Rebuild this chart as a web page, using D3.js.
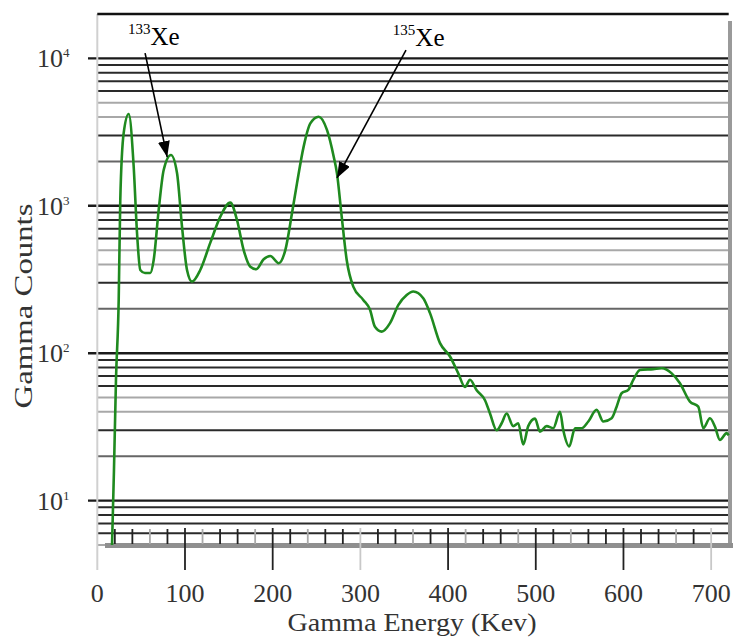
<!DOCTYPE html>
<html lang="en">
<head>
<meta charset="UTF-8">
<title>Gamma Spectrum</title>
<script src="https://d3js.org/d3.v7.min.js"></script>
<style>
  body { margin: 0; background: #fff; }
  text { font-family: "Liberation Serif", "Times New Roman", serif; fill: #111; }
</style>
</head>
<body>
<script>
var width = 733, height = 638;

// spectrum (keV, counts)
var energy = [16.8, 19.0, 21.3, 24.4, 26.2, 30.1, 35.8, 41.5, 45.3, 49.0, 54.4, 60.4, 64.3, 70.0, 75.7,
  84.0, 90.9, 96.6, 102.3, 108.0, 117.4, 128.8, 140.3, 151.7, 159.3, 166.9, 174.5, 181.3, 189.7, 197.3,
  206.8, 214.4, 222.0, 227.7, 235.3, 242.9, 252.5, 261.9, 269.6, 273.3, 278.7, 284.4, 291.9, 303.3, 311.0,
  316.6, 324.3, 333.8, 343.2, 352.8, 360.3, 371.7, 379.4, 390.8, 402.2, 411.6, 419.3, 425.0, 432.6, 442.1,
  447.8, 455.4, 461.1, 466.8, 474.3, 480.0, 485.7, 491.4, 499.1, 504.8, 512.4, 519.9, 527.6, 531.4, 538.2,
  544.7, 552.3, 559.9, 569.4, 577.0, 586.5, 592.2, 597.9, 605.5, 611.2, 618.8, 634.0, 643.6, 655.0, 664.4,
  675.8, 685.3, 691.0, 698.6, 704.3, 710.0, 717.7, 720];
var counts = [5, 16, 66, 230, 1090, 3120, 4190, 1840, 654, 367, 350, 350, 429, 937, 1750,
  2210, 1670, 721, 367, 306, 367, 560, 844, 1050, 801, 501, 386, 371, 434, 457,
  408, 501, 889, 1420, 2520, 3620, 4020, 3270, 2150, 1660, 844, 429, 283, 230, 197,
  151, 140, 160, 212, 248, 262, 236, 187, 117, 95, 73, 59, 66, 56, 48,
  39, 30, 33.5, 39, 32, 33.5, 24, 32, 36, 29.4, 32, 31, 40, 30, 23.3,
  31, 31, 34.4, 41.3, 34.4, 36.2, 43.4, 53.5, 56.4, 65.9, 77, 78, 79, 73, 62.6,
  47, 43.4, 31, 36.2, 31.8, 25.8, 28.7, 27.7];

var xTicks = [0, 100, 200, 300, 400, 500, 600, 700];
var xMinor = d3.range(20, 720, 20);
var yDecades = [10, 100, 1000, 10000];
var yExponents = ["1", "2", "3", "4"];

var peakMass = ["133", "135"];
var peakLabelE = [35, 337];
var peakLabelC = [12300, 12100];
var arrowFromE = [54.5, 352];
var arrowFromC = [10860, 11380];
var arrowToE = [79.7, 273.3];
var arrowToC = [2140, 1545];

var xTitle = "Gamma Energy (Kev)";
var yTitle = "Gamma Counts";

var x = d3.scaleLinear().domain([0, 720]).range([97.3, 728.7]);
var y = d3.scaleLog().domain([5, 20000]).range([545, 14]);

var svg = d3.select("body").append("svg")
  .attr("width", width)
  .attr("height", height)
  .style("display", "block");

var defs = svg.append("defs");
defs.append("marker")
  .attr("id", "head")
  .attr("markerUnits", "userSpaceOnUse")
  .attr("viewBox", "0 0 16 12")
  .attr("refX", 16).attr("refY", 6)
  .attr("markerWidth", 16).attr("markerHeight", 12)
  .attr("orient", "auto")
  .append("path").attr("d", "M0,0L16,6L0,12Z").attr("fill", "#000");

// horizontal log grid
var gridVals = [];
[1, 10, 100, 1000, 10000].forEach(function(d) {
  for (var m = 1; m <= 9; m++) {
    var v = m * d;
    if (v >= 5 && v < 20000) gridVals.push({v: v, m: m});
  }
});

svg.append("g").selectAll("line")
  .data(gridVals)
  .enter().append("line")
  .attr("x1", function(d) { return d.m === 1 ? 88 : x(0); })
  .attr("x2", x(720))
  .attr("y1", function(d) { return y(d.v); })
  .attr("y2", function(d) { return y(d.v); })
  .attr("stroke", function(d) {
    if (d.m === 1) return "#1a1a1a";
    if (d.m === 4 || d.m === 5) return "#a8a8a8";
    if (d.m === 2) return "#666";
    return "#2a2a2a";
  })
  .attr("stroke-width", function(d) { return d.m === 1 ? 2.4 : 2; });

// frame
svg.append("line").attr("x1", x(0)).attr("x2", x(0)).attr("y1", y(20000)).attr("y2", 570)
  .attr("stroke", "#d0d0d0").attr("stroke-width", 2);
svg.append("line").attr("x1", 730).attr("x2", 730).attr("y1", 21).attr("y2", 548)
  .attr("stroke", "#9a9a9a").attr("stroke-width", 4);
svg.append("line").attr("x1", 105).attr("x2", 733).attr("y1", 545.5).attr("y2", 545.5)
  .attr("stroke", "#8f8f8f").attr("stroke-width", 5);
svg.append("line").attr("x1", x(0)).attr("x2", x(720)).attr("y1", y(20000)).attr("y2", y(20000))
  .attr("stroke", "#111").attr("stroke-width", 2.6);

// x ticks
svg.append("g").selectAll("line")
  .data(xMinor.filter(function(d) { return d % 100 !== 0; }))
  .enter().append("line")
  .attr("x1", function(d) { return x(d); })
  .attr("x2", function(d) { return x(d); })
  .attr("y1", 529).attr("y2", 544)
  .attr("stroke", function(d, i) { return (d / 20) % 3 === 0 ? "#aaa" : "#222"; })
  .attr("stroke-width", 1.8);

svg.append("g").selectAll("line")
  .data(xTicks.filter(function(d) { return d > 0; }))
  .enter().append("line")
  .attr("x1", function(d) { return x(d); })
  .attr("x2", function(d) { return x(d); })
  .attr("y1", 528).attr("y2", 570)
  .attr("stroke", function(d) { return d === 300 || d === 700 ? "#c8c8c8" : "#222"; })
  .attr("stroke-width", 1.8);

svg.append("g").selectAll("text")
  .data(xTicks)
  .enter().append("text")
  .attr("x", function(d) { return x(d); })
  .attr("y", 602)
  .attr("text-anchor", "middle")
  .style("font-size", "26px")
  .style("fill", "#333")
  .text(function(d) { return d; });

// y tick labels
var yl = svg.append("g").selectAll("text")
  .data(yDecades)
  .enter().append("text")
  .attr("x", 37)
  .attr("y", function(d) { return y(d) + 9; })
  .style("font-size", "26px")
  .style("fill", "#333");
yl.append("tspan").text("10");
yl.append("tspan")
  .attr("dy", -10)
  .style("font-size", "13px")
  .text(function(d, i) { return yExponents[i]; });

// axis titles
svg.append("text")
  .attr("transform", "translate(32,306) rotate(-90)")
  .attr("text-anchor", "middle")
  .attr("textLength", 205)
  .attr("lengthAdjust", "spacingAndGlyphs")
  .style("font-size", "26px")
  .style("fill", "#333")
  .text(yTitle);

svg.append("text")
  .attr("x", 412).attr("y", 631)
  .attr("text-anchor", "middle")
  .attr("textLength", 249)
  .attr("lengthAdjust", "spacingAndGlyphs")
  .style("font-size", "25px")
  .style("fill", "#333")
  .text(xTitle);

// spectrum
var pts = energy.map(function(e, i) { return [e, counts[i]]; });
var line = d3.line()
  .x(function(d) { return x(d[0]); })
  .y(function(d) { return y(d[1]); })
  .curve(d3.curveMonotoneX);

svg.append("path")
  .datum(pts)
  .attr("d", line)
  .attr("fill", "none")
  .attr("stroke", "#1f8a1f")
  .attr("stroke-width", 2.6)
  .attr("stroke-linejoin", "round");

// peak annotations
peakMass.forEach(function(m, i) {
  var t = svg.append("text")
    .attr("x", x(peakLabelE[i]))
    .attr("y", y(peakLabelC[i]))
    .style("font-size", "25px")
    .style("fill", "#000");
  t.append("tspan").attr("dy", -11).style("font-size", "15px").text(m);
  t.append("tspan").attr("dy", 11).text("Xe");

  svg.append("line")
    .attr("x1", x(arrowFromE[i])).attr("y1", y(arrowFromC[i]))
    .attr("x2", x(arrowToE[i])).attr("y2", y(arrowToC[i]))
    .attr("stroke", "#000")
    .attr("stroke-width", 1.6)
    .attr("marker-end", "url(#head)");
});
</script>
</body>
</html>
